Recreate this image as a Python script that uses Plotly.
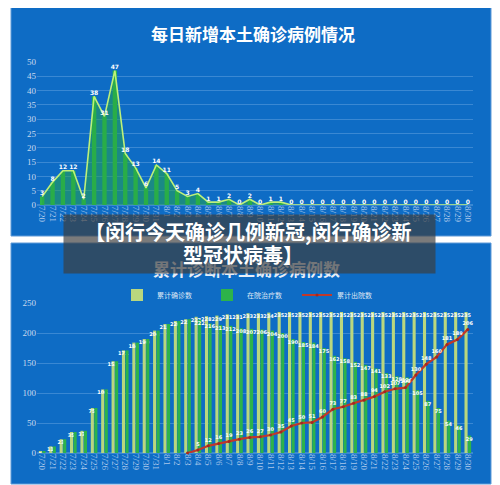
import plotly.graph_objects as go

# ---------------- data ----------------
dates = ["7/20", "7/21", "7/22", "7/23", "7/24", "7/25", "7/26", "7/27", "7/28", "7/29", "7/30", "7/31",
         "8/1", "8/2", "8/3", "8/4", "8/5", "8/6", "8/7", "8/8", "8/9", "8/10", "8/11", "8/12",
         "8/13", "8/14", "8/15", "8/16", "8/17", "8/18", "8/19", "8/20", "8/21", "8/22", "8/23",
         "8/24", "8/25", "8/26", "8/27", "8/28", "8/29", "8/30"]

daily_new = [3, 8, 12, 12, 2, 38, 31, 47, 18, 13, 6, 14, 11, 5, 3, 4, 1, 1, 2, 0, 2, 0, 1, 1,
             0, 0, 0, 0, 0, 0, 0, 0, 0, 0, 0, 0, 0, 0, 0, 0, 0, 0]

cum_confirmed = [3, 11, 23, 35, 37, 75, 106, 153, 171, 184, 190, 204, 215, 220, 223, 227, 228, 229,
                 231, 231, 233, 233, 234, 235, 235, 235, 235, 235, 235, 235, 235, 235, 235, 235,
                 235, 235, 235, 235, 235, 235, 235, 235]

in_hospital = [3, 11, 23, 35, 37, 75, 106, 153, 171, 184, 190, 204, 215, 220, 223, 222, 216, 213,
               212, 208, 207, 206, 204, 200, 190, 185, 184, 175, 162, 158, 152, 147, 141, 133,
               128, 126, 105, 87, 75, 54, 46, 29]

discharged = [None, None, None, None, None, None, None, None, None, None, None, None, None, None,
              0, 5, 12, 16, 19, 23, 26, 27, 30, 35, 45, 50, 51, 60, 73, 77, 83, 88, 94, 102,
              107, 109, 130, 148, 160, 181, 189, 206]

title_top = "每日新增本土确诊病例情况"
title_bottom = "累计诊断本土确诊病例数"
banner_lines = ["【闵行今天确诊几例新冠,闵行确诊新", "型冠状病毒】"]
series_names = ["累计确诊数", "在院治疗数", "累计出院数"]

# ---------------- helpers ----------------
# the page body has an 8px margin, so the figure is drawn 8px in from the top-left
OFF = 8
W, H = 500 - OFF, 485 - OFF
def px(x):
    return (x - OFF) / W
def py(y):
    return 1 - (y - OFF) / H

CJK = "Noto Sans CJK SC"
SERIF = "Liberation Serif"
BLUE = "#0e6cc5"
GRID = "#3a88d3"
LBL = dict(size=5, color="white", family="DejaVu Sans", weight="bold")
XRANGE = [-0.5, len(dates) - 0.5]

fig = go.Figure()

# ---- top chart ----
fig.add_trace(go.Scatter(
    x=dates, y=daily_new, mode="none", fill="tozeroy",
    fillcolor="rgba(38,165,70,0.5)", xaxis="x", yaxis="y",
    showlegend=False, hoverinfo="skip"))
fig.add_trace(go.Bar(
    x=dates, y=daily_new, marker=dict(color="#2db44b", line=dict(width=0)),
    width=0.42, xaxis="x", yaxis="y", showlegend=False))
fig.add_trace(go.Scatter(
    x=dates, y=daily_new, mode="lines+text",
    text=[str(v) for v in daily_new], textposition="top center",
    textfont=dict(size=6, color="white", family="DejaVu Sans", weight="bold"),
    line=dict(color="#bdf07a", width=1.6), xaxis="x", yaxis="y",
    showlegend=False, cliponaxis=False))

# ---- bottom chart ----
fig.add_trace(go.Bar(
    x=dates, y=cum_confirmed, name=series_names[0],
    marker=dict(color="#b9d77e", line=dict(width=0)),
    text=[str(v) for v in cum_confirmed], textposition="inside",
    insidetextanchor="end", textangle=0, constraintext="none", textfont=LBL,
    xaxis="x2", yaxis="y2", legendrank=1))
fig.add_trace(go.Bar(
    x=dates, y=in_hospital, name=series_names[1],
    marker=dict(color="#2db34a", line=dict(width=0)),
    text=["" if h == c else str(h) for h, c in zip(in_hospital, cum_confirmed)],
    textposition="inside", insidetextanchor="end", textangle=0,
    constraintext="none", textfont=LBL,
    xaxis="x2", yaxis="y2", legendrank=2))
fig.add_trace(go.Scatter(
    x=dates, y=discharged, name=series_names[2], mode="lines+markers+text",
    text=["" if v is None or v == 0 else str(v) for v in discharged],
    textposition="top center", textfont=LBL,
    line=dict(color="#c0392b", width=2.2), marker=dict(color="#a8281c", size=3),
    xaxis="x2", yaxis="y2", legendrank=3, cliponaxis=False))

axis_x_common = dict(
    type="category", range=XRANGE, autorange=False,
    showgrid=False, showline=False, zeroline=False, ticks="",
    tickmode="array", tickvals=dates, ticktext=dates, automargin=False,
    tickangle=90, tickfont=dict(family=SERIF, size=9, color="#a9c6ea"))
axis_y_common = dict(
    showgrid=True, gridcolor=GRID, gridwidth=1, zeroline=True, zerolinecolor=GRID,
    showline=False, ticks="", automargin=False,
    tickfont=dict(family=SERIF, size=9, color="#c9d9ee"))

fig.update_layout(
    width=W, height=H,
    margin=dict(l=0, r=0, t=0, b=0, autoexpand=False),
    paper_bgcolor="white", plot_bgcolor="rgba(0,0,0,0)",
    barmode="group", bargap=0.32, bargroupgap=0.12,
    xaxis=dict(domain=[px(37), px(473)], anchor="y", **axis_x_common),
    yaxis=dict(domain=[py(205), py(62)], range=[0, 50], dtick=5, anchor="x", **axis_y_common),
    xaxis2=dict(domain=[px(37), px(473)], anchor="y2", **axis_x_common),
    yaxis2=dict(domain=[py(453), py(303)], range=[0, 250], dtick=50, anchor="x2", **axis_y_common),
    showlegend=True,
    legend=dict(orientation="h", x=px(252), xanchor="center", y=py(295), yanchor="middle",
                font=dict(family=CJK, size=7, color="#dfe8f5"), bgcolor="rgba(0,0,0,0)",
                itemwidth=30, entrywidth=45, traceorder="normal"),
    shapes=[
        dict(type="rect", xref="paper", yref="paper", x0=px(11), x1=px(491), y0=py(236), y1=py(4),
             fillcolor=BLUE, line=dict(color="#5f9ad8", width=1), layer="below"),
        dict(type="rect", xref="paper", yref="paper", x0=px(11), x1=px(491), y0=py(484), y1=py(243),
             fillcolor=BLUE, line=dict(color="#5f9ad8", width=1), layer="below"),
    ],
    annotations=[
        dict(text=title_top, xref="paper", yref="paper", x=px(253), y=py(33),
             xanchor="center", yanchor="middle", showarrow=False,
             font=dict(family=CJK, size=17, color="white", weight="bold")),
        dict(text=title_bottom, xref="paper", yref="paper", x=px(246), y=py(268),
             xanchor="center", yanchor="middle", showarrow=False,
             font=dict(family=CJK, size=17, color="#e6eef8", weight="bold")),
        # banner background
        dict(text=" ", xref="paper", yref="paper", x=px(249.5), y=py(244),
             xanchor="center", yanchor="middle", showarrow=False,
             width=371, height=58, borderpad=0,
             bgcolor="rgba(60,60,60,0.68)", font=dict(size=10)),
        dict(text=banner_lines[0], xref="paper", yref="paper", x=px(248), y=py(231),
             xanchor="center", yanchor="middle", showarrow=False,
             font=dict(family=CJK, size=20, color="white", weight="bold")),
        dict(text=banner_lines[1], xref="paper", yref="paper", x=px(243), y=py(254),
             xanchor="center", yanchor="middle", showarrow=False,
             font=dict(family=CJK, size=20, color="white", weight="bold")),
    ],
)

fig.write_html("out.html")
